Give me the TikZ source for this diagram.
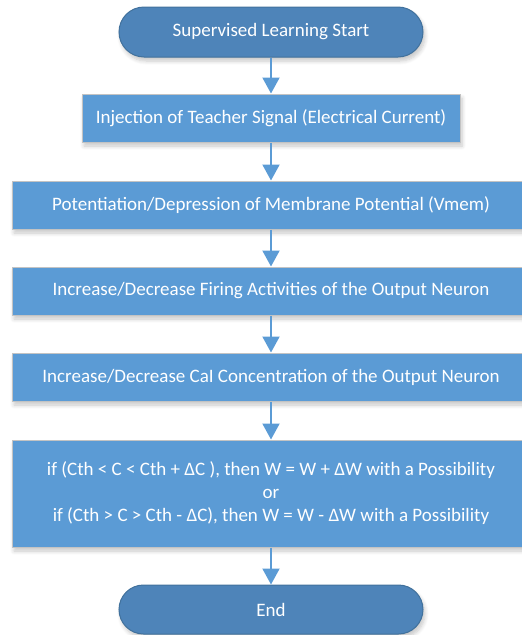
\documentclass[tikz,border=0pt]{standalone}
\usepackage{fontspec}
\setmainfont{Carlito}
\usetikzlibrary{arrows.meta,shadows.blur}

\definecolor{boxblue}{HTML}{5B9BD5}
\definecolor{termblue}{HTML}{4E84B9}
\definecolor{termedge}{HTML}{41719C}
\definecolor{boxedge}{HTML}{C3C3C3}

\tikzset{
  flowtext/.style={text=white, font=\fontsize{19}{23}\selectfont, align=center, inner sep=0pt},
  softshadow/.style={blur shadow={shadow xshift=2pt, shadow yshift=-4pt,
      shadow blur steps=6, shadow blur radius=4pt, shadow opacity=22}},
  stepbox/.style={flowtext, rectangle, fill=boxblue, draw=boxedge, line width=1pt,
      softshadow},
  terminal/.style={flowtext, rectangle, rounded corners=25pt, fill=termblue,
      draw=termedge, line width=1pt, softshadow,
      minimum width=304pt, minimum height=50pt},
  flowarrow/.style={draw=boxblue, line width=2pt,
      -{Triangle[width=17pt,length=16pt]}},
}

\begin{document}
\begin{tikzpicture}[x=1pt,y=-1pt]
  \useasboundingbox (0,0) rectangle (522,635);

  \node[terminal] (start) at (271,32) {Supervised Learning Start};
  \node[stepbox, minimum width=378pt, minimum height=48pt] (inject) at (271,118)
    {Injection of Teacher Signal (Electrical Current)};
  \node[stepbox, minimum width=518pt, minimum height=48pt] (vmem) at (271,205)
    {Potentiation/Depression of Membrane Potential (Vmem)};
  \node[stepbox, minimum width=518pt, minimum height=48pt] (firing) at (271,291)
    {Increase/Decrease Firing Activities of the Output Neuron};
  \node[stepbox, minimum width=518pt, minimum height=48pt] (calcium) at (271,377)
    {Increase/Decrease CaI Concentration of the Output Neuron};
  \node[stepbox, minimum width=518pt, minimum height=107pt] (update) at (271,493.5)
    {if (Cth < C < Cth + ΔC ), then W = W + ΔW with a Possibility\\
     or\\
     if (Cth > C > Cth - ΔC), then W = W - ΔW with a Possibility};
  \node[terminal, minimum height=49pt, rounded corners=24.5pt] (end) at (271,609.5) {End};

  \draw[flowarrow] (start.south) -- (inject.north);
  \draw[flowarrow] (inject.south) -- (vmem.north);
  \draw[flowarrow] (vmem.south) -- (firing.north);
  \draw[flowarrow] (firing.south) -- (calcium.north);
  \draw[flowarrow] (calcium.south) -- (update.north);
  \draw[flowarrow] (update.south) -- (end.north);
\end{tikzpicture}
\end{document}
